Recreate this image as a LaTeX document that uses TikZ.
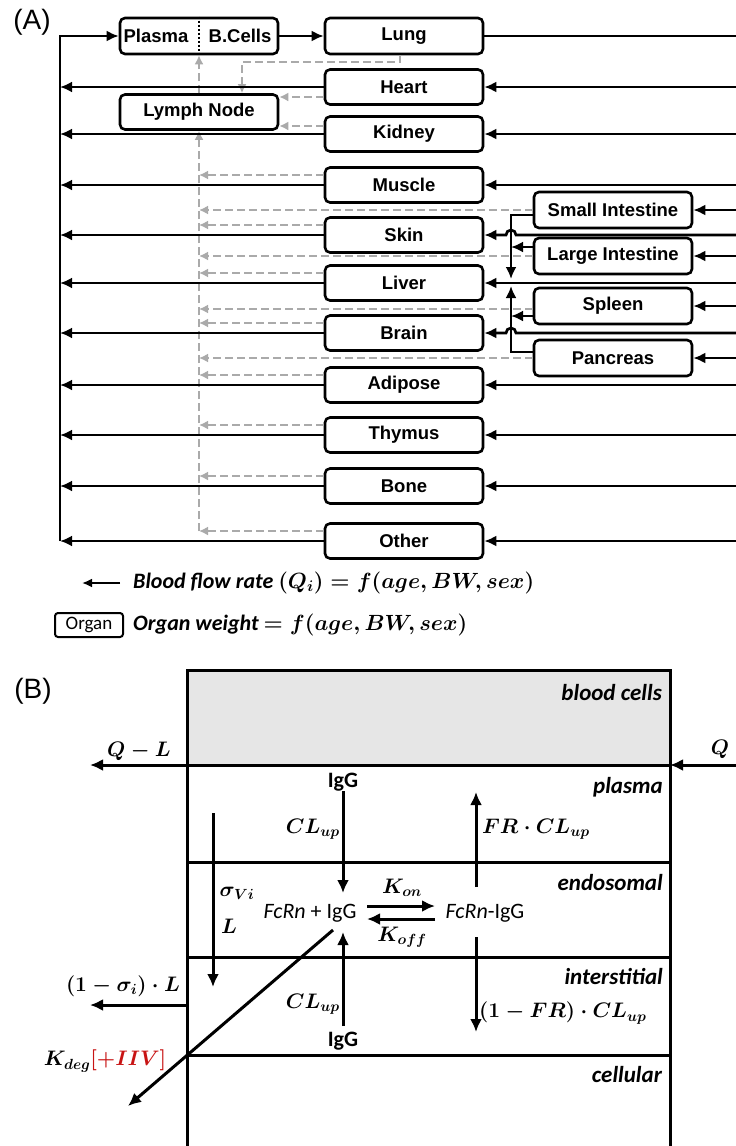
\RequirePackage{fix-cm}
\documentclass[tikz,border=0pt]{standalone}
\usepackage{fontspec}
\usetikzlibrary{arrows.meta}
\newfontfamily\arialf{Liberation Sans}
\newfontfamily\calf{Carlito}
\definecolor{lgray}{RGB}{170,170,170}
\definecolor{cellgray}{RGB}{230,230,230}
\definecolor{ivred}{RGB}{200,20,20}
\begin{document}
\begin{tikzpicture}[x=1pt,y=-1pt,
  organ/.style={draw,line width=2.6pt,rounded corners=5pt,minimum width=158pt,minimum height=35pt,inner sep=0pt,font=\arialf\bfseries\fontsize{18.5}{20}\selectfont},
  otext/.style={inner sep=0pt,font=\arialf\bfseries\fontsize{18.5}{20}\selectfont},
  blood/.style={line width=2.7pt},
  arr/.style={blood,-{Latex[length=12pt,width=11pt]}},
  lymph/.style={draw=lgray,line width=2.4pt,dash pattern=on 8pt off 4pt,-{Latex[length=9pt,width=9pt]}},
  comp/.style={line width=3pt},
  barr/.style={line width=3pt,-{Latex[length=13pt,width=12pt]}},
  clab/.style={anchor=base east,inner sep=0pt,font=\calf\bfseries\itshape\fontsize{23}{26}\selectfont},
  mlab/.style={inner sep=0pt,font=\boldmath\fontsize{21}{24}\selectfont},
  ctext/.style={inner sep=0pt,font=\calf\fontsize{22}{24}\selectfont},
  cbold/.style={inner sep=0pt,font=\calf\bfseries\fontsize{22}{24}\selectfont},
  legtext/.style={anchor=west,inner sep=0pt,font=\calf\bfseries\itshape\boldmath\fontsize{22}{24}\selectfont},
  panel/.style={inner sep=0pt,font=\arialf\fontsize{28}{30}\selectfont}
]
\fill[white] (0,0) rectangle (736,1146);
\useasboundingbox (0,0) rectangle (736,1146);

% ================= Part A =================
\node[panel] (labA) at (32,22) {(A)};
\coordinate (R) at (736,0);
\coordinate (lv) at (199,0);
\coordinate (vtop) at (60,36);

\node[organ,minimum height=36pt] (pb) at (199,36) {};
\node[otext] (plasma) at (156,36) {Plasma};
\node[otext] (bcells) at (240,36) {B.Cells};
\draw[line width=2.4pt,dash pattern=on 2pt off 2pt] (pb.north) -- (pb.south);
\node[organ] (ln) at (199,112) {Lymph Node};

\node[organ,minimum height=36pt] (lung) at (404,36) {Lung};
\node[organ] (heart) at (404,87) {Heart};
\node[organ] (kidney) at (404,134) {Kidney};
\node[organ] (muscle) at (404,185) {Muscle};
\node[organ] (skin) at (404,235) {Skin};
\node[organ] (liver) at (404,283) {Liver};
\node[organ] (brain) at (404,333) {Brain};
\node[organ] (adipose) at (404,385) {Adipose};
\node[organ] (thymus) at (404,435) {Thymus};
\node[organ] (bone) at (404,486) {Bone};
\node[organ] (other) at (404,541) {Other};

\node[organ,minimum height=36pt] (si) at (613,210) {Small Intestine};
\node[organ,minimum height=36pt] (li) at (613,256) {Large Intestine};
\node[organ,minimum height=36pt] (sp) at (613,306) {Spleen};
\node[organ,minimum height=36pt] (pa) at (613,358) {Pancreas};

% lymph flows (grey dashed)
\draw[lymph] (ln.north) -- (pb.south);
\draw[lymph] ([yshift=10pt]other.west -| lv) -- (ln.south);
\foreach \o in {muscle,skin,liver,brain,adipose,thymus,bone,other}{
  \draw[lymph] ([yshift=10pt]\o.west) -- ([yshift=10pt]\o.west -| lv);
}
\draw[lymph] (si.west) -- (si.west -| lv);
\draw[lymph] (li.west) -- (li.west -| lv);
\draw[lymph] ([yshift=-3pt]sp.west) -- ([yshift=-3pt]sp.west -| lv);
\draw[lymph] (pa.west) -- (pa.west -| lv);
\draw[lymph] ([yshift=-10pt]heart.west) -- ([yshift=-10pt]heart.west -| ln.east);
\draw[lymph] ([yshift=8pt]kidney.west) -- ([yshift=8pt]kidney.west -| ln.east);
\coordinate (lkink) at (242,62);
\draw[lymph] ([xshift=-4pt]lung.south) |- (lkink) -- (lkink |- ln.north);

% venous blood to the left collector
\foreach \o in {heart,kidney,muscle,skin,liver,brain,adipose,thymus,bone,other}{
  \draw[arr] (\o.west) -- (\o.west -| vtop);
}
\draw[arr] (other.west -| vtop) -- (vtop) -- (pb.west);
\draw[arr] (pb.east) -- (lung.west);
\draw[blood] (lung.east) -- (lung.east -| R);

% arterial blood from the right
\foreach \o in {heart,kidney,muscle,liver,adipose,thymus,bone,other,si,li,sp,pa}{
  \draw[arr] (\o.east -| R) -- (\o.east);
}
\coordinate (pj1) at (511,279);
\coordinate (pj2) at (511,286);
\draw[arr] (skin.east -| R) -- ([xshift=5pt]skin.east -| pj1) arc[start angle=0,end angle=180,radius=5pt] -- (skin.east);
\draw[arr] (brain.east -| R) -- ([xshift=5pt]brain.east -| pj1) arc[start angle=0,end angle=180,radius=5pt] -- (brain.east);

% portal system
\draw[arr] ([yshift=-5pt]si.west) -| (pj1);
\draw[arr] ([yshift=6pt]pa.west) -| (pj2);
\draw[arr] ([yshift=9pt]li.west) -- ([yshift=9pt]li.west -| pj1);
\draw[arr] ([yshift=-10pt]sp.west) -- ([yshift=-10pt]sp.west -| pj1);

% legend
\coordinate (lg1) at (120,583);
\coordinate (lg0) at (82,583);
\draw[line width=2pt,-{Latex[length=10pt,width=9pt]}] (lg1) -- (lg0);
\node[legtext] (leg1) at (133,583) {Blood flow rate $(Q_i)=f(age,BW,sex)$};
\node[draw,line width=2pt,rounded corners=3pt,minimum width=68pt,minimum height=24pt,inner sep=0pt,font=\calf\fontsize{19}{21}\selectfont] (legbox) at (89,625) {Organ};
\node[legtext] (leg2) at (133,625) {Organ weight $=f(age,BW,sex)$};

% ================= Part B =================
\node[panel] (labB) at (33,691) {(B)};
\coordinate (tl) at (187,670);
\coordinate (tr) at (670,670);
\coordinate (bl) at (187,1146);
\coordinate (br) at (670,1146);
\coordinate (p1l) at (187,765); \coordinate (p1r) at (670,765);
\coordinate (p2l) at (187,862); \coordinate (p2r) at (670,862);
\coordinate (p3l) at (187,957); \coordinate (p3r) at (670,957);
\coordinate (p4l) at (187,1055); \coordinate (p4r) at (670,1055);
\fill[cellgray] (tl) rectangle (p1r);
\draw[comp] (bl) -- (tl) -- (tr) -- (br);
\draw[comp] (p1l) -- (p1r);
\draw[comp] (p2l) -- (p2r);
\draw[comp] (p3l) -- (p3r);
\draw[comp] (p4l) -- (p4r);

\node[clab] (lbc) at (662,700) {blood cells};
\node[clab] (lpl) at (663,793) {plasma};
\node[clab] (len) at (663,890) {endosomal};
\node[clab] (lin) at (663,984) {interstitial};
\node[clab] (lce) at (662,1082) {cellular};

% flows in/out
\coordinate (qlend) at (90,765);
\draw[barr] (p1l) -- (qlend);
\node[mlab] (lql) at (139,751) {$Q-L$};
\coordinate (qstart) at (736,765);
\draw[barr] (qstart) -- (p1r);
\node[mlab] (lq) at (720,749) {$Q$};

\coordinate (sgend) at (90,1005);
\coordinate (sgstart) at (187,1005);
\draw[barr] (sgstart) -- (sgend);
\node[mlab] (lsg) at (123,986) {$(1-\sigma_i)\cdot L$};

% species
\node[cbold] (igtop) at (343,782) {IgG};
\node[cbold] (igbot) at (343,1041) {IgG};
\node[ctext] (fcrn) at (310,913) {\textit{FcRn} + IgG};
\node[ctext] (fcrnigg) at (485,913) {\textit{FcRn}-IgG};

% uptake
\coordinate (a1e) at (343,893);
\draw[barr] (igtop.south) -- (a1e);
\node[mlab,anchor=east] (lcl1) at (340,829) {$CL_{up}$};
\coordinate (a2s) at (343,1026);
\coordinate (a2e) at (343,932);
\draw[barr] (a2s) -- (a2e);
\node[mlab,anchor=east] (lcl2) at (340,1004) {$CL_{up}$};

% recycling
\coordinate (a3s) at (476,887);
\coordinate (a3e) at (476,792);
\draw[barr] (a3s) -- (a3e);
\node[mlab,anchor=west] (lfr) at (482,829) {$FR\cdot CL_{up}$};
\coordinate (a4s) at (476,937);
\coordinate (a4e) at (476,1032);
\draw[barr] (a4s) -- (a4e);
\node[mlab,anchor=west] (lfr2) at (479,1013) {$(1-FR)\cdot CL_{up}$};

% binding
\coordinate (k1) at (367,906);
\coordinate (k2) at (435,906);
\coordinate (k3) at (435,919);
\coordinate (k4) at (367,919);
\draw[barr] (k1) -- (k2);
\draw[barr] (k3) -- (k4);
\node[mlab] (lkon) at (402,888) {$K_{on}$};
\node[mlab] (lkoff) at (402,937) {$K_{off}$};

% convection / lymph
\coordinate (s1) at (213,813);
\coordinate (s2) at (213,987);
\draw[barr] (s1) -- (s2);
\node[mlab] (lsv) at (237,893) {$\sigma_{Vi}$};
\node[mlab] (lL) at (229,926) {$L$};

% degradation
\coordinate (dg0) at (333,930);
\coordinate (dg1) at (128,1106);
\draw[barr] (dg0) -- (dg1);
\node[mlab] (kdeg) at (105,1061) {$K_{deg}$\textcolor{ivred}{$[+IIV]$}};
\end{tikzpicture}
\end{document}
